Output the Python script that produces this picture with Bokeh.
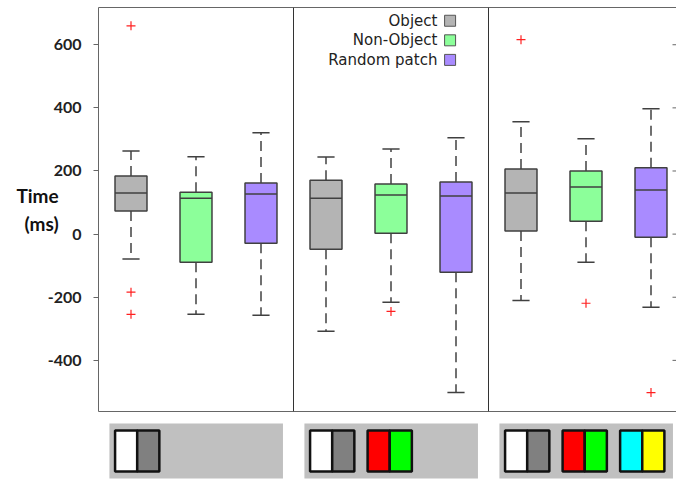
from bokeh.plotting import figure
from bokeh.models import Range1d, LinearAxis, FixedTicker, Span, CustomJSTickFormatter
from bokeh.layouts import column
from bokeh.core.properties import value
from bokeh.embed import file_html
from bokeh.resources import INLINE

# ---- data ----
conditions = ["Object", "Non-Object", "Random patch"]
cond_colors = ["#b4b4b4", "#8cff9a", "#a98bff"]
n_panels = 3

# groups ordered panel by panel: (Object, Non-Object, Random patch) x 3
whisker_hi = [263, 245, 321, 244, 270, 305, 356, 302, 397]
q3 = [184, 133, 162, 171, 159, 165, 206, 200, 210]
medians = [130, 114, 127, 114, 124, 121, 130, 149, 140]
q1 = [73, -89, -29, -48, 3, -121, 10, 41, -10]
whisker_lo = [-79, -254, -257, -308, -216, -502, -210, -89, -232]

outlier_group = [0, 0, 0, 4, 6, 7, 8]
outlier_vals = [660, -184, -254, -245, 616, -219, -502]

y_ticks = [-400, -200, 0, 200, 400, 600]

stimulus_pairs = [
    [("#ffffff", "#808080")],
    [("#ffffff", "#808080"), ("#ff0000", "#00ff00")],
    [("#ffffff", "#808080"), ("#ff0000", "#00ff00"), ("#00ffff", "#ffff00")],
]

# ---- geometry helpers ----
n_cond = len(conditions)
xs = [g // n_cond + (g % n_cond + 0.5) / n_cond for g in range(len(medians))]
fills = [cond_colors[g % n_cond] for g in range(len(medians))]
box_w = 0.164
cap_w = 0.088
x_end = 578 / 195

p = figure(width=676, height=414, x_range=Range1d(0, x_end), y_range=Range1d(-562, 718),
           x_axis_location=None, y_axis_location=None, toolbar_location=None,
           output_backend="svg", min_border_left=98, min_border_right=0,
           min_border_top=7, min_border_bottom=3)
p.outline_line_color = None
p.grid.visible = False

yaxis = LinearAxis(ticker=FixedTicker(ticks=y_ticks), axis_label="Time\n(ms)",
                   formatter=CustomJSTickFormatter(code="return tick.toFixed(0);"))
yaxis.axis_line_color = "#666666"
yaxis.major_tick_line_color = "#666666"
yaxis.major_tick_out = 5
yaxis.major_tick_in = 0
yaxis.minor_tick_line_color = None
yaxis.major_label_text_font = "Lato"
yaxis.major_label_text_font_size = "16px"
yaxis.major_label_text_font_style = "bold"
yaxis.major_label_text_color = "#222222"
yaxis.major_label_standoff = 12
yaxis.axis_label_text_font = "Lato"
yaxis.axis_label_text_font_size = "19px"
yaxis.axis_label_text_font_style = "bold"
yaxis.axis_label_text_color = "#111111"
yaxis.axis_label_orientation = "horizontal"
yaxis.axis_label_standoff = -14
p.add_layout(yaxis, "left")

for loc in ("below", "above"):
    ax = LinearAxis(ticker=FixedTicker(ticks=[]))
    ax.axis_line_color = "#666666"
    ax.major_tick_line_color = None
    ax.minor_tick_line_color = None
    ax.major_label_standoff = 0
    p.add_layout(ax, loc)

# inward tick marks on the right edge
p.scatter(x=[x_end] * len(y_ticks), y=y_ticks, marker="dash", size=8,
          line_color="#666666", line_width=1)

for k in range(1, n_panels):
    p.add_layout(Span(location=k, dimension="height", line_color="#333333", line_width=1))

line_col = "#404040"
# whiskers
p.segment(x0=xs, y0=q3, x1=xs, y1=whisker_hi, line_color=line_col, line_width=1.5, line_dash="10 6")
p.segment(x0=xs, y0=q1, x1=xs, y1=whisker_lo, line_color=line_col, line_width=1.5, line_dash="10 6")
# caps
p.segment(x0=[x - cap_w / 2 for x in xs], y0=whisker_hi, x1=[x + cap_w / 2 for x in xs], y1=whisker_hi,
          line_color=line_col, line_width=1.5)
p.segment(x0=[x - cap_w / 2 for x in xs], y0=whisker_lo, x1=[x + cap_w / 2 for x in xs], y1=whisker_lo,
          line_color=line_col, line_width=1.5)
# boxes
p.vbar(x=xs, width=box_w, top=q3, bottom=q1, fill_color=fills, line_color=line_col, line_width=1.5)
# medians
p.segment(x0=[x - box_w / 2 for x in xs], y0=medians, x1=[x + box_w / 2 for x in xs], y1=medians,
          line_color=line_col, line_width=1.5)
# outliers
p.scatter(x=[xs[g] for g in outlier_group], y=outlier_vals, marker="cross", size=9,
          line_color="#ff2020", line_width=1.2)

# legend (label left of swatch)
leg_y = [676 - 62 * i for i in range(n_cond)]
p.text(x=[1.738] * n_cond, y=leg_y, text=conditions, text_align="right", text_baseline="middle",
       text_font=value("DejaVu Sans"), text_font_size="15px", text_color="#222222")
p.scatter(x=[1.803] * n_cond, y=leg_y, marker="square", size=11, fill_color=cond_colors,
          line_color="#555555", line_width=1)

# ---- stimulus icons ----
q = figure(width=676, height=65, x_range=p.x_range, y_range=Range1d(0, 65),
           x_axis_location=None, y_axis_location=None, toolbar_location=None,
           output_backend="svg", min_border_left=98, min_border_right=0,
           min_border_top=0, min_border_bottom=0)
q.outline_line_color = None
q.grid.visible = False

q.quad(left=[i + 0.056 for i in range(n_panels)], right=[i + 0.946 for i in range(n_panels)],
       top=[56] * n_panels, bottom=[1] * n_panels, fill_color="#c0c0c0", line_color=None)

lefts, rights, cols = [], [], []
half = 0.1135
for i, pairs in enumerate(stimulus_pairs):
    for k, (c1, c2) in enumerate(pairs):
        x0 = i + 0.085 + 0.295 * k
        lefts += [x0, x0 + half]
        rights += [x0 + half, x0 + 2 * half]
        cols += [c1, c2]
q.quad(left=lefts, right=rights, top=[49] * len(cols), bottom=[8] * len(cols),
       fill_color=cols, line_color="#111111", line_width=2.5)

layout = column(p, q, spacing=0)
open("out.html", "w").write(file_html(layout, INLINE))
